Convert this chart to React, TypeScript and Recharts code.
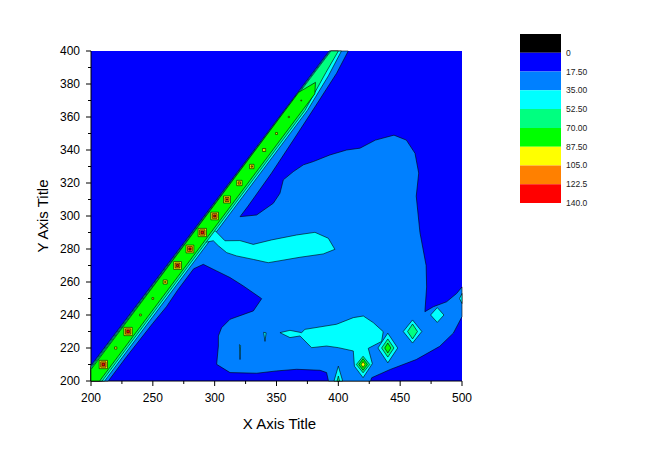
import {
  ScatterChart, Scatter, XAxis, YAxis, CartesianGrid, Label,
  BarChart, Bar,
} from 'recharts'

type Pt = [number, number]

// contour levels and colour map (index 0 = below 0)
const LEVELS = [0, 17.5, 35, 52.5, 70, 87.5, 105, 122.5, 140]
const LEVEL_LABELS = ['0', '17.50', '35.00', '52.50', '70.00', '87.50', '105.0', '122.5', '140.0']
const LEVEL_COLORS = ['#000000', '#0000ff', '#0080ff', '#00ffff', '#00ff80', '#00ff00', '#ffff00', '#ff8000', '#ff0000']

const X_TICKS = [200, 250, 300, 350, 400, 450, 500]
const X_ALL_TICKS = [200, 225, 250, 275, 300, 325, 350, 375, 400, 425, 450, 475, 500]
const Y_TICKS = [200, 220, 240, 260, 280, 300, 320, 340, 360, 380, 400]
const Y_ALL_TICKS = [200, 210, 220, 230, 240, 250, 260, 270, 280, 290, 300, 310, 320, 330, 340, 350, 360, 370, 380, 390, 400]

// 17.5 level: the diagonal band merged with the large region
const azureRegion: Pt[] = [
  [200, 209.5], [392.5, 400], [408, 400], [398.6, 386.5], [381, 366], [363.6, 346], [346, 326], [327, 306], [320.5, 299.6],
  [333.9, 300.6], [347.4, 307.7], [352.8, 313.8], [355.5, 321.9], [363.6, 326.9], [371.7, 331], [379.8, 333],
  [393.2, 337], [406.7, 340], [417.5, 341.1], [430, 346], [445, 349], [455, 346], [462, 338], [465, 326],
  [463, 312], [466, 290], [471, 270], [471.4, 257], [470, 242], [476.8, 245], [487.5, 248], [495.6, 253],
  [500, 257], [500, 239], [493, 229], [482, 221], [463, 213], [442, 207], [427, 202], [426, 200], [392, 200],
  [390.5, 205.1], [385.2, 206.5], [366.3, 207.1], [350.1, 206.1], [334, 204.7], [312.4, 205.1], [301.6, 210.1],
  [303, 221.2], [303, 227.3], [305.6, 232.3], [312.4, 237.4], [331.3, 242.5], [338, 249.9], [323.2, 257.6],
  [312.4, 262.7], [301.6, 266.7], [290.8, 270.7], [283, 268], [270, 255], [261, 245], [250, 235], [229, 215],
  [214, 200], [200, 200],
]

// 35 level
const cyanBand: Pt[] = [[200, 208.8], [393.3, 400], [402.5, 400], [392, 385], [375, 364], [211, 200], [200, 200]]
const cyanUpperBlob: Pt[] = [
  [293, 291], [300.5, 291], [308.3, 285], [320.4, 285.1], [331.2, 282.8], [346, 285.5], [366.3, 288.5],
  [381.1, 290.1], [391.9, 286.5], [397.2, 279.8], [387.8, 277], [369, 275], [352.8, 272.9], [343.3, 271.7],
  [331.2, 273.7], [317.7, 275.8], [309.7, 277.8], [302.9, 282], [298.9, 285], [292, 284],
]
const cyanLowerBlob: Pt[] = [
  [352.8, 229.3], [360.9, 230.7], [370.3, 229.3], [373, 231.3], [398.6, 234.4], [412.1, 238.4], [420.2, 239.4],
  [428.2, 235.4], [436.3, 229.9], [435, 224], [424.2, 219.8], [427.5, 210.5], [420, 202], [413, 209],
  [412.1, 218.2], [400, 220.2], [390.5, 221.2], [378.4, 220.2], [369, 227.3], [360.9, 226.3],
]
const cyanSpots: Pt[][] = [
  [[432, 220], [440, 229], [448, 220], [440, 211]],
  [[452.5, 230], [460, 237], [467.5, 230], [460, 223]],
  [[474.6, 240], [480, 244.5], [485.4, 240], [480, 235.5]],
  [[498, 250], [500, 253], [500, 247]],
  [[396.5, 200], [400, 209], [403.5, 200]],
  [[339.6, 229.5], [341.6, 229.2], [340.7, 224]],
  [[320, 222], [321, 221.5], [320.5, 213]],
]

// 52.5 level
const springBand: Pt[] = [[200, 208], [394, 400], [400, 400], [390, 387], [373, 364], [209, 200], [200, 200]]
const springSpots: Pt[][] = [
  [[414.6, 210], [420, 215], [425.4, 210], [420, 205]],
  [[435, 220], [440, 225.5], [445, 220], [440, 214.5]],
  [[456, 230], [460, 234.5], [464, 230], [460, 225.5]],
  [[399, 200], [400, 203], [401, 200]],
]

// 70 level
const greenBand: Pt[] = [[200, 207], [368, 375], [381.5, 381], [381, 374], [207, 200], [200, 200]]
const greenSpots: Pt[][] = [
  [[416.5, 210], [420, 213.5], [423.5, 210], [420, 206.5]],
  [[437.5, 220], [440, 223], [442.5, 220], [440, 217]],
]

// 87.5 level
const yellowSpots: Pt[][] = [
  [[418.5, 210], [420, 211.8], [421.5, 210], [420, 208.2]],
]

// peaks along the diagonal ridge (x = y)
const RIDGE_NODES = [210, 220, 230, 240, 250, 260, 270, 280, 290, 300, 310, 320, 330, 340, 350, 360, 370]
const RIDGE_PEAKS = [138, 101, 138, 98, 98, 112, 135, 135, 138, 134, 130, 120, 114, 106, 99, 95, 93]

function ridgeSquares(level: number): Pt[][] {
  const out: Pt[][] = []
  RIDGE_NODES.forEach((n, i) => {
    const s = (RIDGE_PEAKS[i] - level) * 0.066
    if (s <= 0) return
    out.push([[n - s, n - 0.75 * s], [n + s, n - 0.75 * s], [n + s, n + 0.75 * s], [n - s, n + 0.75 * s]])
  })
  return out
}

const LAYERS: { color: string; polys: Pt[][] }[] = [
  { color: LEVEL_COLORS[2], polys: [azureRegion] },
  { color: LEVEL_COLORS[3], polys: [cyanBand, cyanUpperBlob, cyanLowerBlob, ...cyanSpots] },
  { color: LEVEL_COLORS[4], polys: [springBand, ...springSpots] },
  { color: LEVEL_COLORS[5], polys: [greenBand, ...greenSpots] },
  { color: LEVEL_COLORS[6], polys: [...yellowSpots, ...ridgeSquares(LEVELS[5])] },
  { color: LEVEL_COLORS[7], polys: ridgeSquares(LEVELS[6]) },
  { color: LEVEL_COLORS[8], polys: ridgeSquares(LEVELS[7]) },
]

// colour bar: black block below 0, then one block per level step
const colorbarRow: Record<string, number | string> = { name: 'scale' }
LEVEL_COLORS.forEach((_, i) => {
  colorbarRow[`b${i}`] = i === 0 ? -(LEVELS[1] - LEVELS[0]) : LEVELS[i] - LEVELS[i - 1]
})

const FONT = 'Arial, "Liberation Sans", sans-serif'

function XTick(props: any) {
  const { x, y, payload } = props
  const major = X_TICKS.includes(payload.value)
  const axisY = y - 12
  return (
    <g>
      <line x1={x} x2={x} y1={axisY} y2={axisY + (major ? 5 : 3)} stroke="#000" />
      {major && (
        <text x={x} y={y} dy="0.71em" textAnchor="middle" fontSize={12} fill="#000">{payload.value}</text>
      )}
    </g>
  )
}

function YTick(props: any) {
  const { x, y, payload } = props
  const major = Y_TICKS.includes(payload.value)
  const axisX = x + 11
  return (
    <g>
      <line x1={axisX} x2={axisX - (major ? 5 : 3)} y1={y} y2={y} stroke="#000" />
      {major && (
        <text x={x} y={y} dy="0.355em" textAnchor="end" fontSize={12} fill="#000">{payload.value}</text>
      )}
    </g>
  )
}

export default function App() {
  return (
    <div style={{ position: 'relative', width: 642, height: 445, fontFamily: FONT }}>
      <ScatterChart width={642} height={445} margin={{ top: 43, right: 188, bottom: 22, left: 23 }}>
        <CartesianGrid horizontal={false} vertical={false} fill={LEVEL_COLORS[1]} fillOpacity={1} />
        {LAYERS.flatMap((layer, li) =>
          layer.polys.map((poly, pi) => (
            <Scatter
              key={`${li}-${pi}`}
              data={[...poly, poly[0]].map(([x, y]) => ({ x, y }))}
              line={{ fill: layer.color, stroke: '#000', strokeWidth: 0.6 }}
              shape={() => <g />}
              isAnimationActive={false}
            />
          )),
        )}
        <XAxis
          type="number"
          dataKey="x"
          domain={[200, 500]}
          ticks={X_ALL_TICKS}
          interval={0}
          height={50}
          tickSize={5}
          tickMargin={7}
          tickLine={false}
          axisLine={{ stroke: '#000' }}
          tick={XTick}
        >
          <Label
            content={({ viewBox }: any) => (
              <text
                x={viewBox.x + viewBox.width / 2 + 3}
                y={viewBox.y + viewBox.height - 2.5}
                textAnchor="middle"
                fontSize={15}
                fill="#000"
              >
                X Axis Title
              </text>
            )}
          />
        </XAxis>
        <YAxis
          type="number"
          dataKey="y"
          domain={[200, 400]}
          ticks={Y_ALL_TICKS}
          interval={0}
          width={60}
          tickSize={6}
          tickMargin={5}
          tickLine={false}
          axisLine={{ stroke: '#000' }}
          tick={YTick}
        >
          <Label
            content={({ viewBox }: any) => {
              const cx = viewBox.x + 11
              const cy = viewBox.y + viewBox.height / 2
              return (
                <text
                  x={cx}
                  y={cy}
                  transform={`rotate(-90 ${cx} ${cy})`}
                  textAnchor="middle"
                  dominantBaseline="central"
                  fontSize={15}
                  fill="#000"
                >
                  Y Axis Title
                </text>
              )
            }}
          />
        </YAxis>
      </ScatterChart>

      <div style={{ position: 'absolute', left: 512, top: 22 }}>
        <BarChart
          width={100}
          height={185}
          data={[colorbarRow]}
          stackOffset="sign"
          barCategoryGap={0}
          margin={{ top: 4, right: 19, bottom: 12, left: 0 }}
        >
          <XAxis dataKey="name" hide />
          <YAxis
            orientation="right"
            type="number"
            domain={[-(LEVELS[1] - LEVELS[0]), LEVELS[LEVELS.length - 1]]}
            reversed
            ticks={LEVELS}
            interval={0}
            width={40}
            axisLine={false}
            tickLine={false}
            tickSize={3}
            tickMargin={2}
            tick={{ fontSize: 8.5, fill: '#222' }}
            tickFormatter={(v: number) => LEVEL_LABELS[LEVELS.indexOf(v)] ?? String(v)}
          />
          {LEVEL_COLORS.map((c, i) => (
            <Bar key={c} dataKey={`b${i}`} stackId="scale" fill={c} isAnimationActive={false} />
          ))}
        </BarChart>
      </div>
    </div>
  )
}
